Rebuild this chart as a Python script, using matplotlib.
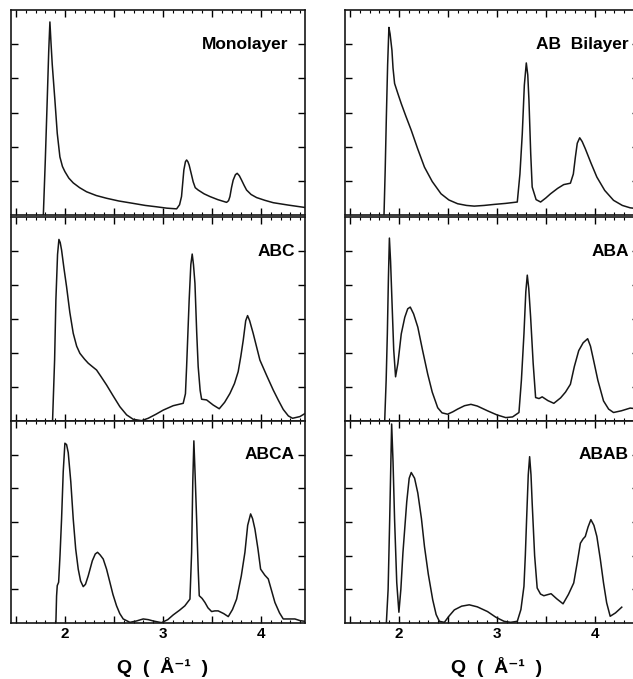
import numpy as np
import matplotlib.pyplot as plt
from matplotlib.ticker import MultipleLocator, FuncFormatter

# values (Q in 1/Angstrom, intensity in tick units 0-6)
mono_q = [1.78, 1.80, 1.82, 1.835, 1.847, 1.858, 1.871, 1.898, 1.922, 1.949, 1.975, 2.0,
          2.04, 2.085, 2.15, 2.221, 2.32, 2.425, 2.55, 2.697, 2.82, 2.935, 3.04, 3.14,
          3.17, 3.19, 3.214, 3.23, 3.242, 3.255, 3.268, 3.29, 3.309, 3.33, 3.36, 3.42,
          3.48, 3.56, 3.65, 3.67, 3.684, 3.70, 3.717, 3.74, 3.758, 3.78, 3.803, 3.83,
          3.854, 3.90, 3.956, 4.04, 4.126, 4.28, 4.45]
mono_i = [0.0, 1.6, 3.4, 4.8, 5.65, 5.05, 4.4, 3.36, 2.39, 1.70, 1.42, 1.27,
          1.08, 0.94, 0.80, 0.68, 0.57, 0.49, 0.41, 0.34, 0.28, 0.24, 0.20, 0.18,
          0.30, 0.54, 1.32, 1.56, 1.61, 1.56, 1.46, 1.20, 0.97, 0.80, 0.73, 0.62,
          0.54, 0.45, 0.37, 0.42, 0.54, 0.80, 1.02, 1.18, 1.22, 1.15, 1.02, 0.86,
          0.73, 0.60, 0.51, 0.43, 0.36, 0.29, 0.22]

abc_q = [1.874, 1.895, 1.908, 1.925, 1.939, 1.952, 1.966, 1.99, 2.017, 2.05, 2.085, 2.12,
         2.153, 2.2, 2.238, 2.28, 2.323, 2.37, 2.425, 2.49, 2.561, 2.63, 2.697, 2.782,
         2.85, 2.93, 3.003, 3.105, 3.207, 3.23, 3.242, 3.268, 3.285, 3.299, 3.312, 3.327,
         3.345, 3.36, 3.38, 3.395, 3.446, 3.513, 3.575, 3.63, 3.684, 3.73, 3.768, 3.795,
         3.82, 3.845, 3.864, 3.885, 3.921, 3.99, 4.06, 4.126, 4.18, 4.228, 4.28, 4.323,
         4.398, 4.45]
abc_i = [0.0, 1.8, 3.56, 4.9, 5.34, 5.25, 5.03, 4.5, 3.95, 3.2, 2.58, 2.2,
         1.99, 1.82, 1.70, 1.60, 1.50, 1.30, 1.06, 0.75, 0.42, 0.18, 0.05, 0.01,
         0.08, 0.20, 0.32, 0.45, 0.52, 0.80, 1.60, 3.56, 4.60, 4.91, 4.60, 4.05,
         2.60, 1.60, 0.90, 0.64, 0.62, 0.47, 0.36, 0.55, 0.81, 1.10, 1.45, 1.90,
         2.38, 2.95, 3.10, 2.95, 2.58, 1.79, 1.33, 0.91, 0.60, 0.34, 0.15, 0.08,
         0.13, 0.22]

abca_q = [1.908, 1.915, 1.922, 1.936, 1.95, 1.966, 1.983, 2.0, 2.017, 2.034, 2.06, 2.085,
          2.11, 2.136, 2.16, 2.187, 2.21, 2.238, 2.28, 2.31, 2.333, 2.36, 2.391, 2.425,
          2.459, 2.49, 2.527, 2.56, 2.595, 2.663, 2.73, 2.799, 2.85, 2.901, 2.986, 3.05,
          3.105, 3.17, 3.224, 3.276, 3.293, 3.305, 3.316, 3.33, 3.344, 3.36, 3.371, 3.40,
          3.429, 3.46, 3.497, 3.53, 3.564, 3.62, 3.667, 3.71, 3.752, 3.80, 3.837, 3.865,
          3.895, 3.915, 3.939, 3.97, 3.997, 4.04, 4.075, 4.11, 4.143, 4.19, 4.228, 4.29,
          4.347, 4.40, 4.45]
abca_i = [0.0, 0.8, 1.11, 1.21, 2.0, 3.09, 4.5, 5.34, 5.30, 5.06, 4.2, 3.09,
          2.2, 1.60, 1.25, 1.08, 1.15, 1.40, 1.85, 2.05, 2.10, 2.02, 1.90, 1.60,
          1.21, 0.85, 0.51, 0.28, 0.12, 0.02, 0.06, 0.12, 0.10, 0.06, 0.01, 0.10,
          0.24, 0.38, 0.51, 0.71, 2.10, 4.2, 5.41, 4.3, 3.09, 1.60, 0.81, 0.73,
          0.61, 0.45, 0.34, 0.36, 0.36, 0.28, 0.19, 0.40, 0.71, 1.40, 2.10, 2.90,
          3.24, 3.10, 2.79, 2.20, 1.60, 1.42, 1.31, 0.95, 0.61, 0.30, 0.12, 0.12,
          0.12, 0.07, 0.05]

ab_q = [1.848, 1.86, 1.872, 1.885, 1.898, 1.91, 1.929, 1.94, 1.956, 1.99, 2.024, 2.07,
        2.126, 2.19, 2.261, 2.34, 2.43, 2.51, 2.599, 2.69, 2.769, 2.87, 2.972, 3.09,
        3.208, 3.235, 3.259, 3.28, 3.30, 3.315, 3.327, 3.345, 3.36, 3.40, 3.446, 3.50,
        3.547, 3.62, 3.682, 3.75, 3.78, 3.801, 3.82, 3.845, 3.87, 3.902, 3.96, 4.02,
        4.10, 4.19, 4.28, 4.36, 4.45]
ab_i = [0.0, 1.3, 2.87, 4.4, 5.49, 5.30, 4.82, 4.30, 3.85, 3.55, 3.26, 2.90,
        2.48, 1.95, 1.40, 0.98, 0.62, 0.44, 0.33, 0.28, 0.26, 0.28, 0.31, 0.34,
        0.38, 1.20, 2.38, 3.80, 4.45, 4.10, 3.36, 1.80, 0.82, 0.45, 0.38, 0.50,
        0.62, 0.78, 0.89, 0.93, 1.20, 1.70, 2.10, 2.26, 2.15, 1.94, 1.52, 1.11,
        0.72, 0.43, 0.28, 0.21, 0.18]

aba_q = [1.855, 1.87, 1.882, 1.893, 1.903, 1.915, 1.929, 1.947, 1.966, 1.99, 2.024, 2.06,
         2.09, 2.116, 2.15, 2.193, 2.24, 2.294, 2.34, 2.396, 2.44, 2.497, 2.55, 2.599,
         2.67, 2.735, 2.80, 2.904, 3.0, 3.09, 3.16, 3.225, 3.25, 3.276, 3.295, 3.31,
         3.325, 3.344, 3.37, 3.395, 3.43, 3.462, 3.52, 3.581, 3.65, 3.70, 3.75, 3.79,
         3.835, 3.88, 3.926, 3.955, 3.987, 4.03, 4.088, 4.14, 4.19, 4.27, 4.36, 4.45]
aba_i = [0.0, 1.2, 2.56, 4.2, 5.38, 4.7, 3.55, 2.1, 1.30, 1.7, 2.56, 3.05,
         3.30, 3.35, 3.15, 2.76, 2.10, 1.38, 0.85, 0.39, 0.24, 0.20, 0.27, 0.35,
         0.45, 0.49, 0.44, 0.30, 0.18, 0.10, 0.12, 0.25, 1.20, 2.56, 3.80, 4.29,
         3.90, 3.06, 1.70, 0.69, 0.66, 0.71, 0.60, 0.52, 0.68, 0.85, 1.08, 1.60,
         2.07, 2.30, 2.42, 2.20, 1.78, 1.20, 0.59, 0.35, 0.25, 0.30, 0.38, 0.35]

abab_q = [1.872, 1.89, 1.906, 1.926, 1.94, 1.956, 1.978, 2.0, 2.02, 2.041, 2.08, 2.105,
          2.126, 2.16, 2.193, 2.23, 2.261, 2.30, 2.345, 2.38, 2.413, 2.464, 2.51, 2.566,
          2.64, 2.718, 2.80, 2.904, 2.99, 3.073, 3.14, 3.208, 3.245, 3.276, 3.29, 3.303,
          3.32, 3.334, 3.348, 3.36, 3.385, 3.411, 3.445, 3.479, 3.515, 3.553, 3.61, 3.675,
          3.73, 3.784, 3.82, 3.852, 3.88, 3.902, 3.93, 3.959, 3.99, 4.02, 4.055, 4.088,
          4.12, 4.156, 4.21, 4.274]
abab_i = [0.0, 1.0, 3.07, 5.91, 4.8, 3.07, 1.2, 0.32, 1.0, 2.08, 3.6, 4.3,
          4.47, 4.3, 3.86, 3.10, 2.27, 1.45, 0.69, 0.25, 0.05, 0.02, 0.20, 0.39,
          0.50, 0.54, 0.48, 0.34, 0.17, 0.05, 0.02, 0.05, 0.40, 1.09, 2.0, 3.07,
          4.4, 4.94, 4.4, 3.56, 2.0, 1.04, 0.86, 0.81, 0.84, 0.87, 0.72, 0.57,
          0.85, 1.19, 1.80, 2.37, 2.50, 2.57, 2.85, 3.07, 2.90, 2.57, 1.90, 1.19,
          0.60, 0.20, 0.30, 0.47]

labels = ["Monolayer", "ABC", "ABCA", "AB  Bilayer", "ABA", "ABAB"]
curves = [(mono_q, mono_i), (abc_q, abc_i), (abca_q, abca_i),
          (ab_q, ab_i), (aba_q, aba_i), (abab_q, abab_i)]

W, H = 633, 679
fig = plt.figure(figsize=(W / 100, H / 100), dpi=100)

# panel boxes in pixels: (top, bottom) for rows, left edge for columns
rows = [(10, 215), (217, 421), (421, 623)]
cols = [11, 345]
width = 294

txt_font = ['Liberation Sans', 'DejaVu Sans']
ink = '#161616'

k = 0
for ci, x0 in enumerate(cols):
    for ri, (top, bot) in enumerate(rows):
        ax = fig.add_axes([x0 / W, 1 - bot / H, width / W, (bot - top) / H])
        q, inten = curves[k]
        ax.plot(q, inten, color=ink, lw=1.1, solid_joinstyle='round')
        ax.set_xlim(1.45, 4.45)
        ax.set_ylim(0, 6)
        ax.set_yticks([1, 2, 3, 4, 5])
        ax.xaxis.set_major_locator(MultipleLocator(0.5))
        ax.xaxis.set_minor_locator(MultipleLocator(0.1))
        ax.tick_params(axis='y', direction='in', left=True, right=True,
                       length=5, width=1, labelleft=False)
        ax.tick_params(axis='x', which='major', direction='in', top=True,
                       length=5, width=1)
        ax.tick_params(axis='x', which='minor', direction='in', top=True,
                       length=2.5, width=0.8)
        for s in ax.spines.values():
            s.set_linewidth(1.2)
            s.set_color(ink)
        if ri == 2:
            ax.xaxis.set_major_formatter(FuncFormatter(
                lambda v, p: f"{v:.0f}" if abs(v - round(v)) < 1e-6 else ""))
            ax.tick_params(axis='x', labelsize=11, pad=3)
            for t in ax.get_xticklabels():
                t.set_fontfamily(txt_font)
                t.set_fontweight('bold')
            ax.text(3.0, -1.3, "Q  (  Å⁻¹  )", ha='center', va='center',
                    fontsize=14, fontweight='bold', family=txt_font,
                    transform=ax.transData, clip_on=False)
        else:
            ax.tick_params(axis='x', labelbottom=False)
        xr = 0.942 if k == 0 else 0.965
        ax.text(xr, 5.0, labels[k], ha='right', va='center', fontsize=12.5,
                fontweight='bold', family=txt_font,
                transform=ax.get_yaxis_transform())
        k += 1

fig.savefig("out.png", dpi=100)
